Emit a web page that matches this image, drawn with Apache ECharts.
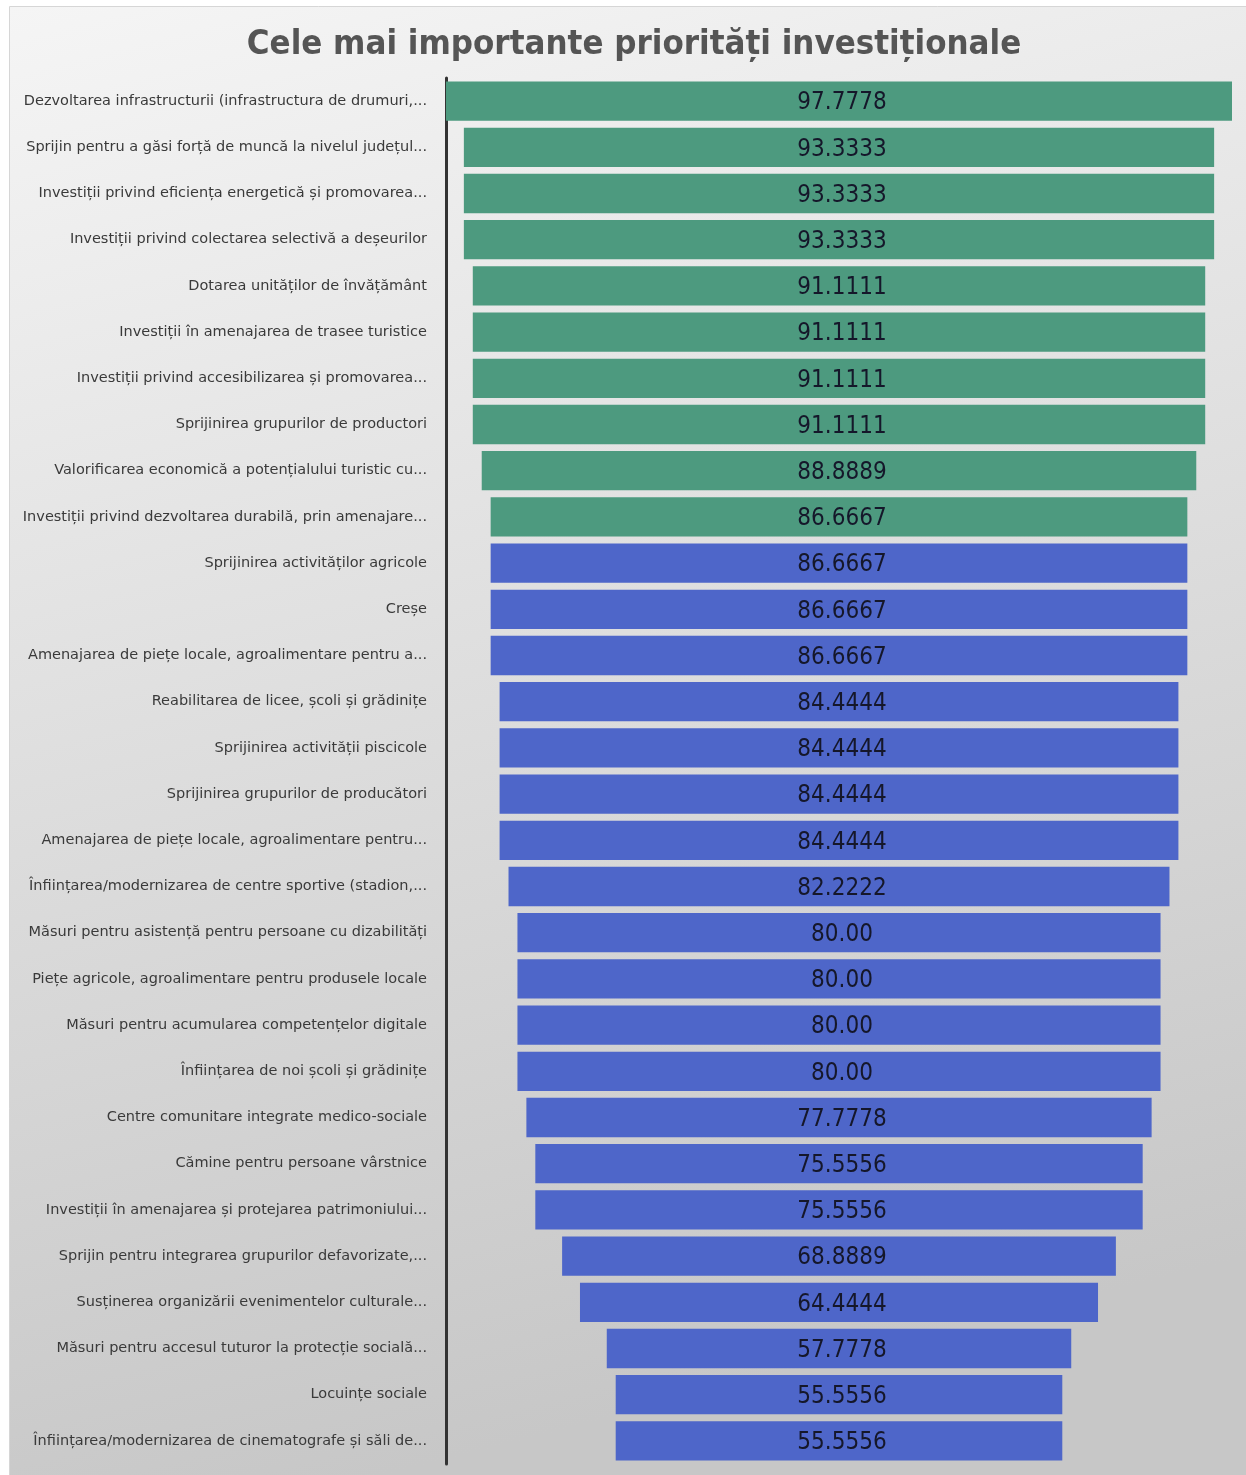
<!DOCTYPE html>
<html>
<head>
<meta charset="utf-8">
<script src="https://cdn.jsdelivr.net/npm/echarts@6/dist/echarts.min.js"></script>
<style>
  html, body { margin: 0; padding: 0; background: #fff; }
  #chart { width: 1246px; height: 1475px; }
</style>
</head>
<body>
<div id="chart"></div>
<script>
(function () {
    const categories = [
        'Dezvoltarea infrastructurii (infrastructura de drumuri,...',
        'Sprijin pentru a găsi forță de muncă la nivelul județul...',
        'Investiții privind eficiența energetică și promovarea...',
        'Investiții privind colectarea selectivă a deșeurilor',
        'Dotarea unităților de învățământ',
        'Investiții în amenajarea de trasee turistice',
        'Investiții privind accesibilizarea și promovarea...',
        'Sprijinirea grupurilor de productori',
        'Valorificarea economică a potențialului turistic cu...',
        'Investiții privind dezvoltarea durabilă, prin amenajare...',
        'Sprijinirea activităților agricole',
        'Creșe',
        'Amenajarea de piețe locale, agroalimentare pentru a...',
        'Reabilitarea de licee, școli și grădinițe',
        'Sprijinirea activității piscicole',
        'Sprijinirea grupurilor de producători',
        'Amenajarea de piețe locale, agroalimentare pentru...',
        'Înființarea/modernizarea de centre sportive (stadion,...',
        'Măsuri pentru asistență pentru persoane cu dizabilități',
        'Piețe agricole, agroalimentare pentru produsele locale',
        'Măsuri pentru acumularea competențelor digitale',
        'Înființarea de noi școli și grădinițe',
        'Centre comunitare integrate medico-sociale',
        'Cămine pentru persoane vârstnice',
        'Investiții în amenajarea și protejarea patrimoniului...',
        'Sprijin pentru integrarea grupurilor defavorizate,...',
        'Susținerea organizării evenimentelor culturale...',
        'Măsuri pentru accesul tuturor la protecție socială...',
        'Locuințe sociale',
        'Înființarea/modernizarea de cinematografe și săli de...'
    ];

    const values = [
        97.7778, 93.3333, 93.3333, 93.3333, 91.1111, 91.1111, 91.1111, 91.1111,
        88.8889, 86.6667, 86.6667, 86.6667, 86.6667, 84.4444, 84.4444, 84.4444,
        84.4444, 82.2222, 80, 80, 80, 80, 77.7778, 75.5556, 75.5556, 68.8889,
        64.4444, 57.7778, 55.5556, 55.5556
    ];

    // primele 10 verzi, restul albastre
    const groups = [
        'top', 'top', 'top', 'top', 'top', 'top', 'top', 'top', 'top', 'top',
        'rest', 'rest', 'rest', 'rest', 'rest', 'rest', 'rest', 'rest', 'rest', 'rest',
        'rest', 'rest', 'rest', 'rest', 'rest', 'rest', 'rest', 'rest', 'rest', 'rest'
    ];

    const groupColors = { top: '#4d9a7f', rest: '#4e66c9' };

    const maxValue = Math.max.apply(null, values);
    const offsets = values.map(v => (maxValue - v) / 2);

    const option = {
        backgroundColor: '#ffffff',
        animation: false,
        graphic: [{
            type: 'rect',
            left: 9,
            top: 6,
            z: -10,
            shape: { width: 1237, height: 1469 },
            style: {
                fill: {
                    type: 'linear', x: 0, y: 0, x2: 0.3, y2: 1,
                    colorStops: [
                        { offset: 0, color: '#f5f5f5' },
                        { offset: 1, color: '#c7c7c7' }
                    ]
                },
                stroke: '#d6d6d6',
                lineWidth: 1
            }
        }],
        title: {
            text: 'Cele mai importante priorități investiționale',
            left: 629,
            textAlign: 'center',
            top: 23,
            textStyle: {
                fontFamily: 'DejaVu Sans Condensed, DejaVu Sans',
                fontSize: 34.5,
                fontWeight: 'bold',
                color: '#555555'
            }
        },
        grid: {
            left: 446,
            right: 14,
            top: 78,
            bottom: 11,
            containLabel: false
        },
        xAxis: {
            type: 'value',
            min: 0,
            max: maxValue,
            show: false
        },
        yAxis: {
            type: 'category',
            inverse: true,
            data: categories,
            axisLine: { show: true, lineStyle: { color: '#333333', width: 3 } },
            axisTick: { show: false },
            axisLabel: {
                margin: 19,
                fontFamily: 'DejaVu Sans',
                fontSize: 14.5,
                color: '#3a3a3a'
            }
        },
        series: [
            {
                type: 'bar',
                stack: 'funnel',
                silent: true,
                itemStyle: { color: 'transparent' },
                data: offsets
            },
            {
                type: 'bar',
                stack: 'funnel',
                barCategoryGap: '15%',
                data: values.map((v, i) => ({
                    value: v,
                    itemStyle: { color: groupColors[groups[i]] }
                })),
                label: {
                    show: true,
                    position: 'inside',
                    offset: [3, 2],
                    fontFamily: 'Liberation Sans Narrow, DejaVu Sans Condensed',
                    fontSize: 24,
                    color: '#15172a',
                    formatter(p) {
                        return Number.isInteger(p.value) ? p.value.toFixed(2) : p.value.toFixed(4);
                    }
                }
            }
        ]
    };

    const myChart = echarts.init(document.getElementById('chart'));
    myChart.setOption(option);
}());
</script>
</body>
</html>
